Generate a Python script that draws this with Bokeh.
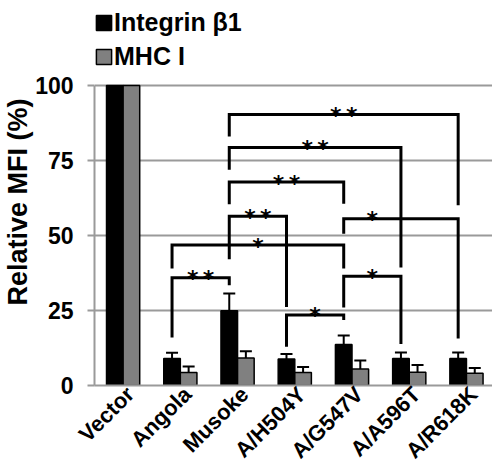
import math
from bokeh.plotting import figure
from bokeh.models import (ColumnDataSource, Range1d, FixedTicker, Whisker, TeeHead,
                          Legend, LegendItem, Title)
from bokeh.embed import file_html
from bokeh.resources import INLINE
from bokeh.core.properties import value

# ---------------- data ----------------
categories = ["Vector", "Angola", "Musoke", "A/H504Y", "A/G547V", "A/A596T", "A/R618K"]
integrin = [100, 9.0, 24.9, 8.8, 13.7, 9.0, 9.0]
integrin_err = [0, 1.9, 5.8, 1.7, 3.0, 2.0, 2.0]
mhc = [100, 4.3, 9.2, 4.3, 5.5, 4.4, 4.1]
mhc_err = [0, 2.0, 2.2, 1.9, 2.8, 2.4, 1.7]
y_ticks = [0, 25, 50, 75, 100]

# significance brackets (category index of left/right group, heights in %)
br_left = [1, 1, 2, 2, 2, 2, 4, 4, 3]
br_right = [2, 4, 3, 4, 5, 6, 6, 5, 4]
br_height = [35.9, 46.8, 56.4, 67.8, 79.3, 90.3, 55.6, 36.4, 23.5]
br_left_end = [16.0, 39.0, 42.1, 60.4, 71.9, 83.0, 50.6, 26.0, 12.9]
br_right_end = [33.4, 39.0, 26.2, 60.6, 39.3, 60.1, 15.7, 13.8, 21.8]
br_label = ["**", "*", "**", "**", "**", "**", "*", "*", "*"]
br_label_pos = [1.5, 2.5, 2.5, 3.0, 3.5, 4.0, 4.5, 4.5, 3.5]

# ---------------- layout ----------------
BAR_W = 0.29
OFF = BAR_W / 2
GRID = "#9a9a9a"
LABEL_SHIFT = 0.125
Y_TOP = 128.33   # room above 100 for the legend (inside the frame)

idx = list(range(len(categories)))
x_black = [i - OFF for i in idx]
x_grey = [i + OFF for i in idx]

p = figure(width=492, height=475, output_backend="svg", toolbar_location=None,
           x_range=Range1d(-0.5, 6.455), y_range=Range1d(0, Y_TOP),
           min_border_left=93, min_border_right=0, min_border_top=0,
           min_border_bottom=90)
p.outline_line_color = None
p.background_fill_color = "white"

p.xgrid.grid_line_color = None
p.ygrid.ticker = FixedTicker(ticks=y_ticks)
p.ygrid.grid_line_color = GRID
p.ygrid.grid_line_width = 2

ya = p.yaxis[0]
ya.ticker = FixedTicker(ticks=y_ticks)
ya.bounds = (y_ticks[0], y_ticks[-1])
ya.axis_line_color = GRID
ya.axis_line_width = 2
ya.major_tick_line_color = GRID
ya.major_tick_line_width = 2
ya.major_tick_out = 7
ya.major_tick_in = 0
ya.minor_tick_line_color = None
ya.major_label_standoff = 14
ya.major_label_text_font = "Liberation Sans"
ya.major_label_text_font_style = "bold"
ya.major_label_text_font_size = "23px"
ya.major_label_text_color = "black"

xa = p.xaxis[0]
tick_pos = [i + LABEL_SHIFT for i in idx]
xa.ticker = FixedTicker(ticks=tick_pos)
xa.major_label_overrides = {t: c for t, c in zip(tick_pos, categories)}
xa.major_label_orientation = math.pi / 4
xa.axis_line_color = GRID
xa.axis_line_width = 2
xa.major_tick_line_color = None
xa.major_tick_out = 0
xa.major_tick_in = 0
xa.minor_tick_line_color = None
xa.minor_tick_out = 0
xa.major_label_standoff = 5
xa.major_label_text_font = "Liberation Sans"
xa.major_label_text_font_style = "bold"
xa.major_label_text_font_size = "22px"
xa.major_label_text_color = "black"

r1 = p.vbar(x=x_black, top=integrin, width=BAR_W, bottom=0,
            fill_color="black", line_color="black", line_width=1.5)
r2 = p.vbar(x=x_grey, top=mhc, width=BAR_W, bottom=0,
            fill_color="#808080", line_color="black", line_width=1.5)

def add_whiskers(xs, vals, errs):
    sel = [k for k in range(len(xs)) if errs[k] > 0]
    src = ColumnDataSource(dict(
        x=[xs[k] for k in sel],
        lower=[vals[k] for k in sel],
        upper=[vals[k] + errs[k] for k in sel]))
    w = Whisker(source=src, base="x", lower="lower", upper="upper",
                dimension="height", line_color="black", line_width=2,
                upper_head=TeeHead(size=12, line_width=2, line_color="black"),
                lower_head=None, level="overlay")
    p.add_layout(w)

add_whiskers(x_black, integrin, integrin_err)
add_whiskers(x_grey, mhc, mhc_err)

# brackets
bxs, bys = [], []
for l, r, h, le, re in zip(br_left, br_right, br_height, br_left_end, br_right_end):
    xl, xr = l - OFF, r - OFF
    bxs.append([xl, xl, xr, xr])
    bys.append([le, h, h, re])
p.multi_line(xs=bxs, ys=bys, line_color="black", line_width=3,
             line_join="miter", line_cap="butt")

star_text = [s.replace("**", "*\u2009*") for s in br_label]
p.text(x=[x - OFF for x in br_label_pos], y=br_height, text=star_text,
       text_font=value("DejaVu Sans"), text_font_style="bold",
       text_font_size="22px", text_align="center", text_baseline="alphabetic",
       y_offset=1, text_color="black")

# y-axis title
p.add_layout(Title(text="Relative MFI (%)", align="left", offset=80, standoff=0,
                   text_font="Liberation Sans", text_font_style="bold",
                   text_font_size="27px", text_color="black"), "left")

legend = Legend(items=[LegendItem(label="Integrin β1", renderers=[r1]),
                       LegendItem(label="MHC I", renderers=[r2])],
                location=(0, 314.5), orientation="vertical",
                glyph_width=19, glyph_height=19, label_standoff=1,
                spacing=5, padding=0, margin=0,
                border_line_color=None, background_fill_alpha=0,
                label_text_font="Liberation Sans", label_text_font_style="bold",
                label_text_font_size="25px", label_text_color="black")
p.add_layout(legend)

open("out.html", "w").write(file_html(p, INLINE))
